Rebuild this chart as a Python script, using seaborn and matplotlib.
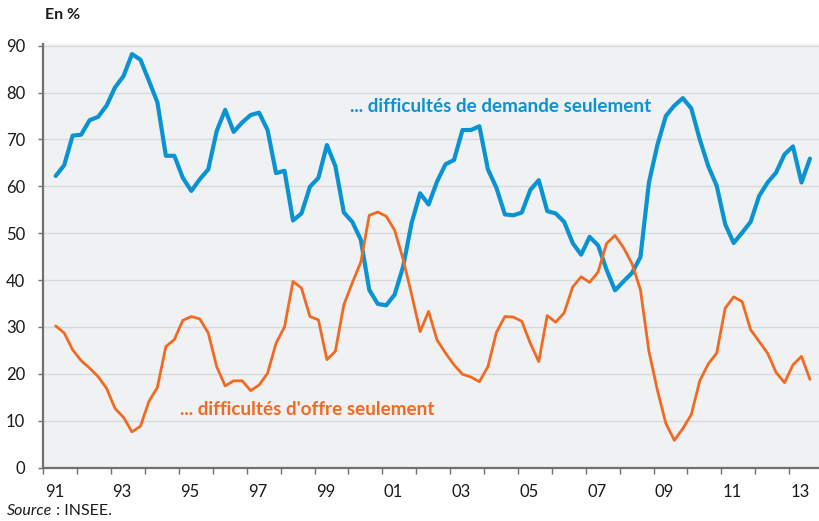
import numpy as np
import pandas as pd
import matplotlib
matplotlib.use("Agg")
import matplotlib.pyplot as plt
import seaborn as sns

# Quarterly data, 1991 Q2 .. 2013 Q3 (share of firms, %)
demande = [62.2, 64.5, 70.8, 71.0, 74.1, 74.8, 77.2, 81.1, 83.5, 88.2,
           87.0, 82.5, 77.9, 66.5, 66.5, 61.8, 59.0, 61.5, 63.6, 71.8,
           76.3, 71.6, 73.6, 75.2, 75.7, 72.0, 62.8, 63.3, 52.7, 54.2,
           59.9, 61.8, 68.8, 64.3, 54.4, 52.4, 48.6, 37.9, 34.9, 34.6,
           36.9, 42.9, 52.2, 58.5, 56.1, 61.0, 64.7, 65.6, 72.0, 72.0,
           72.8, 63.6, 59.7, 54.0, 53.8, 54.4, 59.2, 61.3, 54.7, 54.2,
           52.4, 47.9, 45.4, 49.2, 47.4, 42.2, 37.8, 39.7, 41.5, 44.9,
           60.8, 68.8, 75.0, 77.2, 78.8, 76.6, 70.0, 64.3, 60.1, 51.9,
           47.9, 50.1, 52.4, 57.9, 60.8, 62.9, 66.8, 68.5, 60.8, 65.9]
offre = [30.2, 28.7, 25.1, 22.8, 21.2, 19.4, 16.9, 12.6, 10.7, 7.6,
         8.8, 14.1, 17.1, 25.8, 27.3, 31.4, 32.2, 31.7, 28.7, 21.5,
         17.4, 18.5, 18.5, 16.4, 17.6, 20.1, 26.5, 30.0, 39.7, 38.3,
         32.2, 31.5, 23.0, 24.8, 34.7, 39.4, 43.8, 53.8, 54.5, 53.6,
         50.6, 44.4, 36.9, 29.0, 33.3, 27.2, 24.4, 21.9, 19.9, 19.3,
         18.3, 21.5, 28.8, 32.2, 32.1, 31.2, 26.5, 22.6, 32.4, 31.0,
         33.0, 38.5, 40.7, 39.5, 41.7, 47.8, 49.5, 46.9, 43.5, 37.9,
         24.8, 16.5, 9.4, 5.8, 8.3, 11.3, 18.5, 22.1, 24.4, 34.0,
         36.4, 35.4, 29.4, 26.9, 24.4, 20.3, 18.1, 21.9, 23.7, 18.8]
start_year = 1991.363
time = [start_year + 0.25 * k for k in range(len(demande))]

year_ticks = list(range(1991, 2014))
year_labels = ["91", "93", "95", "97", "99", "01", "03", "05", "07", "09", "11", "13"]
label_years = list(range(1991, 2014, 2))
y_ticks = [0, 10, 20, 30, 40, 50, 60, 70, 80, 90]

label_demande = "... difficultés de demande seulement"
label_offre = "... difficultés d'offre seulement"

BLUE = "#0a93d3"
ORANGE = "#f26a21"

sns.set_theme(style="white")
plt.rcParams['font.family'] = ['Lato', 'DejaVu Sans']

fig = plt.figure(figsize=(8.2, 5.21), dpi=100)
ax = fig.add_axes([43.4 / 820, 1 - 467.5 / 521, 1 - 43.4 / 820, (467.5 - 44) / 521])
ax.set_facecolor("#f0f1f3")

df = pd.DataFrame({"t": time, "demande": demande, "offre": offre})
sns.lineplot(data=df, x="t", y="demande", ax=ax, color=BLUE, linewidth=3.0, zorder=3)
sns.lineplot(data=df, x="t", y="offre", ax=ax, color=ORANGE, linewidth=2.0, zorder=4)

ax.set_xlim(1991, 2013.91)
ax.set_ylim(0, 90.35)
ax.set_xlabel("")
ax.set_ylabel("")

ax.set_yticks(y_ticks)
ax.set_yticklabels([str(v) for v in y_ticks], fontsize=12, color="#1a1a1a")
ax.yaxis.grid(True, color="#d8d9db", linewidth=1.0)
ax.set_axisbelow(True)

ax.set_xticks(year_ticks)
ax.set_xticklabels([""] * len(year_ticks))
for yr, lab in zip(label_years, year_labels):
    ax.text(yr + 0.04, -3.6, lab, ha="left", va="top", fontsize=12, color="#1a1a1a")

for s in ["top", "right"]:
    ax.spines[s].set_visible(False)
for s in ["left", "bottom"]:
    ax.spines[s].set_color("#707070")
    ax.spines[s].set_linewidth(1.6)
ax.tick_params(axis="x", which="major", direction="out", length=4.3, width=1.0, color="#707070", bottom=True)
ax.tick_params(axis="y", which="major", direction="out", length=3.6, width=1.0, color="#707070", left=True, pad=9.5)

ax.text(2000.04, 77.0, label_demande, color=BLUE, fontsize=13.6, fontweight="bold", ha="left", va="center")
ax.text(1995.03, 12.3, label_offre, color=ORANGE, fontsize=13.6, fontweight="bold", ha="left", va="center")

fig.text(45 / 820, 1 - 15 / 521, "En %", fontsize=11.5, fontweight="bold", ha="left", va="center", color="#1a1a1a")
src = fig.text(7 / 820, 1 - 511 / 521, "Source", fontsize=11.5, fontstyle="italic", ha="left", va="center", color="#1a1a1a")
fig.canvas.draw()
bb = src.get_window_extent()
fig.text(bb.x1 / 820, 1 - 511 / 521, " : INSEE.", fontsize=11.5, ha="left", va="center", color="#1a1a1a")

fig.savefig("out.png", dpi=100)
